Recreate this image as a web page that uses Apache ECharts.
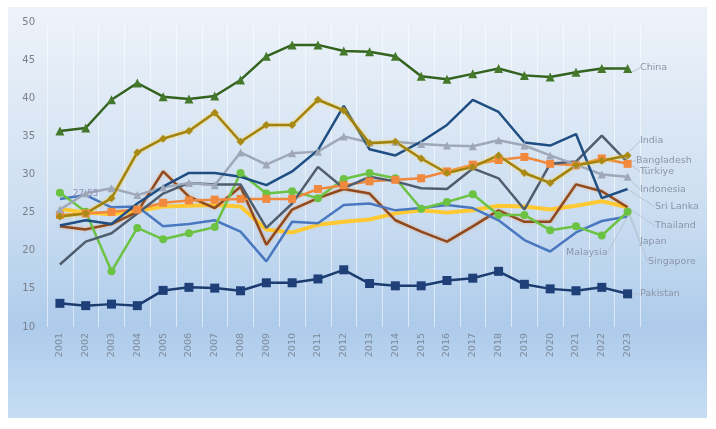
<!DOCTYPE html>
<html>
<head>
<meta charset="utf-8">
<script src="https://cdn.jsdelivr.net/npm/echarts@6/dist/echarts.min.js"></script>
<style>
html,body{margin:0;padding:0;background:#ffffff;}
#chart{width:716px;height:429px;}
</style>
</head>
<body>
<div id="chart"></div>
<script>
var years = ['2001','2002','2003','2004','2005','2006','2007','2008','2009','2010','2011','2012','2013','2014','2015','2016','2017','2018','2019','2020','2021','2022','2023'];
var yTicks = [10, 15, 20, 25, 30, 35, 40, 45, 50];

var china      = [35.7,36.1,39.8,42.0,40.2,39.9,40.3,42.4,45.5,47.0,47.0,46.2,46.1,45.5,42.9,42.5,43.2,43.9,43.0,42.8,43.4,43.9,43.9];
var india      = [24.5,24.9,26.9,32.9,34.7,35.7,38.1,34.3,36.5,36.5,39.8,38.4,34.1,34.3,32.1,30.2,31.0,32.5,30.2,28.9,31.2,31.8,32.5];
var bangladesh = [24.7,24.9,25.1,25.4,26.3,26.6,26.7,26.8,26.8,26.8,28.1,28.6,29.1,29.3,29.5,30.4,31.3,31.9,32.3,31.4,31.2,32.1,31.4];
var turkiye    = [18.2,21.2,22.3,24.9,27.5,28.9,28.7,28.7,23.0,26.2,31.0,28.2,29.7,29.1,28.2,28.1,30.8,29.5,25.4,31.4,31.7,35.1,31.6];
var indonesia  = [25.4,27.55,28.2,27.3,28.3,28.9,28.6,32.9,31.3,32.8,33.0,35.0,34.2,34.3,34.0,33.8,33.7,34.5,33.8,32.5,31.3,30.0,29.7];
var srilanka   = [23.3,24.0,23.5,26.2,28.4,30.2,30.2,29.7,28.6,30.4,33.2,39.0,33.3,32.5,34.3,36.5,39.8,38.2,34.2,33.8,35.3,26.9,28.1];
var thailand   = [23.2,22.8,23.5,25.1,30.4,27.1,25.6,28.4,20.8,25.4,26.9,28.1,27.5,24.0,22.5,21.2,23.2,25.3,23.8,23.8,28.7,27.8,25.7];
var japan      = [25.5,25.0,24.8,25.2,25.8,25.9,26.0,25.8,22.8,22.4,23.4,23.8,24.1,24.9,25.3,25.0,25.3,25.9,25.8,25.4,25.9,26.5,25.7];
var malaysia   = [26.8,27.3,25.7,25.8,23.2,23.5,24.0,22.5,18.6,23.8,23.6,26.0,26.2,25.3,25.6,26.0,25.6,24.0,21.4,19.9,22.4,23.9,24.5];
var singapore  = [27.6,25.1,17.3,23.0,21.5,22.3,23.1,30.2,27.5,27.8,26.9,29.4,30.2,29.5,25.5,26.4,27.4,24.7,24.7,22.7,23.2,22.0,25.1];
var pakistan   = [13.1,12.8,13.0,12.8,14.8,15.2,15.1,14.75,15.8,15.8,16.3,17.5,15.7,15.4,15.4,16.1,16.4,17.3,15.6,15.0,14.75,15.2,14.35];

var labelColor = '#8a96a8';
var lastIdx = years.length - 1;

function mk(name, data, opt) {
  var items = data.map(function (v, i) {
    if (i === lastIdx) {
      return { value: v, label: { show: true } };
    }
    return v;
  });
  var hasMarker = !!opt.symbol;
  return {
    name: name,
    type: 'line',
    data: items,
    symbol: opt.symbol || 'circle',
    symbolSize: hasMarker ? (opt.size || 8) : 0.01,
    showSymbol: true,
    lineStyle: { color: opt.line, width: opt.width || 2.5, shadowColor: opt.glow || 'rgba(0,0,0,0)', shadowBlur: opt.glow ? 3 : 0 },
    itemStyle: { color: opt.marker || opt.line, borderWidth: 0 },
    z: opt.z || 2,
    label: {
      show: false,
      formatter: name,
      color: labelColor,
      fontSize: 9.5,
      fontFamily: 'DejaVu Sans',
      position: 'right'
    },
    labelLine: { show: true, lineStyle: { color: '#b8c4d2', width: 1 }, length2: 0 },
    labelLayout: function (p) {
      if (p.dataIndex === lastIdx) {
        return { x: opt.lx, y: opt.ly, align: 'left', verticalAlign: 'middle' };
      }
      return {};
    },
    emphasis: { disabled: true },
    animation: false
  };
}

var series = [
  mk('Japan', japan, { line: '#ffc933', width: 4, z: 1, lx: 640, ly: 242 }),
  mk('Thailand', thailand, { line: '#8e4a1e', glow: 'rgba(240,140,60,0.6)', lx: 655, ly: 226 }),
  mk('Malaysia', malaysia, { line: '#4a78c0', lx: 566, ly: 253 }),
  mk('Singapore', singapore, { line: '#6cc243', symbol: 'circle', size: 8, lx: 648, ly: 262 }),
  mk('Bangladesh', bangladesh, { line: '#f0893e', symbol: 'rect', size: 8, lx: 636, ly: 161 }),
  mk('Türkiye', turkiye, { line: '#4f5d6e', lx: 640, ly: 172 }),
  mk('Indonesia', indonesia, { line: '#9ea8b8', symbol: 'triangle', size: 8, lx: 640, ly: 190 }),
  mk('Sri Lanka', srilanka, { line: '#1f4f82', lx: 655, ly: 207 }),
  mk('India', india, { line: '#a0820f', marker: '#a88a14', glow: 'rgba(255,210,60,0.9)', symbol: 'diamond', size: 8, lx: 640, ly: 141 }),
  mk('China', china, { line: '#33631f', marker: '#44782a', symbol: 'triangle', size: 9, lx: 640, ly: 68, z: 3 }),
  mk('Pakistan', pakistan, { line: '#1c3c70', marker: '#1f3f78', symbol: 'rect', size: 9, lx: 640, ly: 294, z: 3 })
];

// data label shown on the Indonesia 2002 point
series[6].data[1] = {
  value: indonesia[1],
  label: { show: true, position: 'inside', formatter: String(indonesia[1]), color: '#8f92b8', fontSize: 9, fontFamily: 'DejaVu Sans' },
  labelLine: { show: false }
};

var chart = echarts.init(document.getElementById('chart'), null, { renderer: 'canvas' });
chart.setOption({
  animation: false,
  backgroundColor: '#ffffff',
  graphic: [{
    type: 'rect',
    z: -10,
    silent: true,
    shape: { x: 8, y: 7, width: 699, height: 411 },
    style: {
      fill: new echarts.graphic.LinearGradient(0, 0, 0, 1, [
        { offset: 0, color: '#eef3f9' },
        { offset: 0.45, color: '#cfe0f2' },
        { offset: 0.78, color: '#aecbeb' },
        { offset: 1, color: '#c6ddf4' }
      ])
    }
  }],
  grid: { left: 47, right: 75.5, top: 22, bottom: 102, containLabel: false },
  xAxis: {
    type: 'category',
    data: years,
    boundaryGap: true,
    axisLine: { show: false },
    axisTick: { show: false },
    splitLine: { show: true, lineStyle: { color: 'rgba(255,255,255,0.55)', width: 1 } },
    axisLabel: { rotate: 90, color: '#7d8a99', fontSize: 9.5, fontFamily: 'DejaVu Sans', margin: 6, interval: 0 }
  },
  yAxis: {
    type: 'value',
    min: yTicks[0],
    max: yTicks[yTicks.length - 1],
    interval: 5,
    axisLine: { show: false },
    axisTick: { show: false },
    splitLine: { show: false },
    axisLabel: { color: '#7a7f88', fontSize: 10, fontFamily: 'DejaVu Sans', margin: 12 }
  },
  series: series
});
</script>
</body>
</html>
